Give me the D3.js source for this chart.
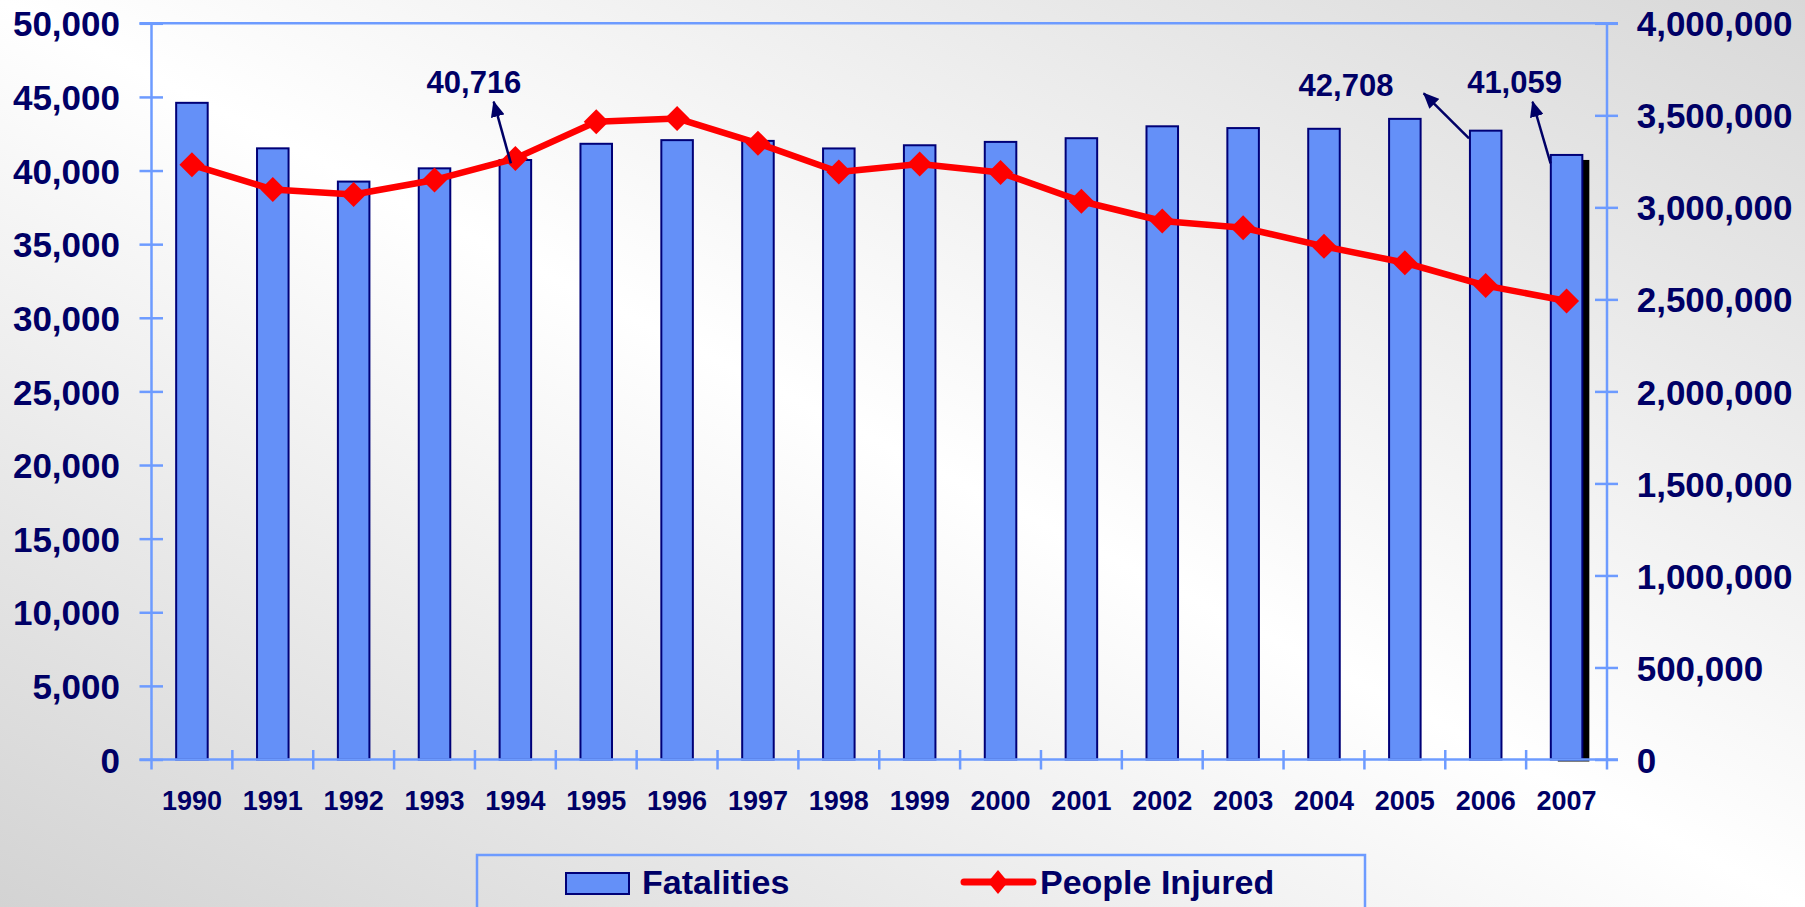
<!DOCTYPE html>
<html>
<head>
<meta charset="utf-8">
<script src="https://cdn.jsdelivr.net/npm/d3@7"></script>
<style>
  html, body { margin: 0; padding: 0; overflow: hidden; }
  svg { display: block; }
  text { font-family: "Liberation Sans", Arial, sans-serif; font-weight: bold; fill: #000066; }
</style>
</head>
<body>
<svg id="chart" width="1805" height="907"></svg>
<script>
// ---------- data ----------
const years = ["1990","1991","1992","1993","1994","1995","1996","1997","1998","1999",
               "2000","2001","2002","2003","2004","2005","2006","2007"];
const fatalities = [44599, 41508, 39250, 40150, 40716, 41817, 42065, 42013, 41501, 41717,
                    41945, 42196, 43005, 42884, 42836, 43510, 42708, 41059];
const injured = [3231000, 3097000, 3070000, 3149000, 3266000, 3465000, 3483000, 3348000, 3192000, 3236000,
                 3189000, 3033000, 2926000, 2889000, 2788000, 2699000, 2575000, 2491000];
const leftTicks = [0, 5000, 10000, 15000, 20000, 25000, 30000, 35000, 40000, 45000, 50000];
const rightTicks = [0, 500000, 1000000, 1500000, 2000000, 2500000, 3000000, 3500000, 4000000];
const seriesNames = ["Fatalities", "People Injured"];
const annotatedYears = ["1994", "2006", "2007"];

// ---------- layout / style ----------
const W = 1805, H = 907;
const L = 151.5, R = 1607, T = 23.3, B = 759.5;
const axisColor = "#6d9bff";
const barFill = "#6490f8";
const barStroke = "#000077";
const navy = "#000066";

const svg = d3.select("#chart");
const defs = svg.append("defs");

const grad = defs.append("linearGradient").attr("id", "bg")
  .attr("x1", 0).attr("y1", 1).attr("x2", 1).attr("y2", 0);
grad.append("stop").attr("offset", 0).attr("stop-color", "#d3d3d3");
grad.append("stop").attr("offset", 0.5).attr("stop-color", "#ffffff");
grad.append("stop").attr("offset", 1).attr("stop-color", "#d8d8d8");

defs.append("marker").attr("id", "arrow")
  .attr("viewBox", "0 0 16 14").attr("refX", 15).attr("refY", 7)
  .attr("markerUnits", "userSpaceOnUse")
  .attr("markerWidth", 16).attr("markerHeight", 14)
  .attr("orient", "auto")
  .append("path").attr("d", "M0,0 L16,7 L0,14 Z").attr("fill", navy);

svg.append("rect").attr("width", W).attr("height", H).attr("fill", "url(#bg)");

// ---------- scales ----------
const x = d3.scaleBand().domain(years).range([L, R]).padding(0);
const yL = d3.scaleLinear().domain([0, 50000]).range([B, T]);
const yR = d3.scaleLinear().domain([0, 4000000]).range([B, T]);
const barW = x.bandwidth() * 0.39;
const cx = d => x(d) + x.bandwidth() / 2;

// ---------- axes ----------
const fmt = d3.format(",");

// left axis
const gL = svg.append("g").attr("transform", `translate(${L},0)`)
  .call(d3.axisLeft(yL).tickValues(leftTicks).tickFormat(fmt).tickSize(12).tickPadding(19.5));
gL.select(".domain").remove();
gL.selectAll(".tick line").attr("x1", 11.5).attr("stroke", axisColor).attr("stroke-width", 2.5);
gL.selectAll(".tick text").style("font-size", "35px").attr("fill", navy).attr("dy", "0.36em");

// right axis
const gR = svg.append("g").attr("transform", `translate(${R},0)`)
  .call(d3.axisRight(yR).tickValues(rightTicks).tickFormat(fmt).tickSize(11).tickPadding(18.7));
gR.select(".domain").remove();
gR.selectAll(".tick line").attr("x1", -12).attr("stroke", axisColor).attr("stroke-width", 2.5);
gR.selectAll(".tick text").style("font-size", "35px").attr("fill", navy).attr("dy", "0.36em");

// bottom axis (labels)
const gB = svg.append("g").attr("transform", `translate(0,${B})`)
  .call(d3.axisBottom(x).tickSize(0).tickPadding(31.3));
gB.select(".domain").remove();
gB.selectAll(".tick text").style("font-size", "27px").attr("fill", navy);

// axis lines
svg.append("line").attr("x1", L).attr("x2", L).attr("y1", T).attr("y2", B + 10)
  .attr("stroke", axisColor).attr("stroke-width", 2.5);
svg.append("line").attr("x1", R).attr("x2", R).attr("y1", T).attr("y2", B + 10)
  .attr("stroke", axisColor).attr("stroke-width", 2.5);
svg.append("line").attr("x1", L - 12).attr("x2", R + 11).attr("y1", T).attr("y2", T)
  .attr("stroke", axisColor).attr("stroke-width", 2.5);

// category boundary ticks
svg.append("g").selectAll("line").data(years.slice(1)).join("line")
  .attr("x1", d => x(d)).attr("x2", d => x(d))
  .attr("y1", B - 9.5).attr("y2", B + 10)
  .attr("stroke", axisColor).attr("stroke-width", 2.5);

// ---------- bars ----------
const barsData = years.map((y, i) => ({ year: y, v: fatalities[i], last: i === years.length - 1 }));

// shadow for the last bar
svg.append("g").selectAll("rect").data(barsData.filter(d => d.last)).join("rect")
  .attr("x", d => cx(d.year) - barW / 2 + 7)
  .attr("y", d => yL(d.v) + 5)
  .attr("width", barW)
  .attr("height", d => B - yL(d.v) - 3)
  .attr("fill", "#000");

svg.append("g").selectAll("rect").data(barsData).join("rect")
  .attr("x", d => cx(d.year) - barW / 2)
  .attr("y", d => yL(d.v))
  .attr("width", barW)
  .attr("height", d => B - yL(d.v))
  .attr("fill", barFill)
  .attr("stroke", barStroke)
  .attr("stroke-width", 2);

// bottom axis line drawn over bars
svg.append("line").attr("x1", L - 12).attr("x2", R + 11).attr("y1", B).attr("y2", B)
  .attr("stroke", axisColor).attr("stroke-width", 2.5);

// ---------- line ----------
const lineData = years.map((y, i) => ({ year: y, v: injured[i] }));
svg.append("path").datum(lineData)
  .attr("d", d3.line().x(d => cx(d.year)).y(d => yR(d.v)))
  .attr("fill", "none").attr("stroke", "#ff0000").attr("stroke-width", 6.5)
  .attr("stroke-linejoin", "round");

const diamond = "M0,-12.5 L12.5,0 L0,12.5 L-12.5,0 Z";
svg.append("g").selectAll("path").data(lineData).join("path")
  .attr("transform", d => `translate(${cx(d.year)},${yR(d.v)})`)
  .attr("d", diamond).attr("fill", "#ff0000");

// ---------- annotations ----------
// offsets relative to bar centre / bar top (styling only)
const annoStyle = {
  "1994": { bx: -4.5, by: 3.3, tx: -21.7, ty: -58.3, lx: -41.4, ly: -66.7 },
  "2006": { bx: -16.7, by: 7.6, tx: -62, ty: -37.4, lx: -139.7, ly: -34.5 },
  "2007": { bx: -16, by: 8.4, tx: -34, ty: -53.2, lx: -52, ly: -61.6 }
};
const annoData = annotatedYears.map(y => ({ year: y, v: fatalities[years.indexOf(y)] }));
const ga = svg.append("g");
ga.selectAll("line").data(annoData).join("line")
  .attr("x1", d => cx(d.year) + annoStyle[d.year].bx)
  .attr("y1", d => yL(d.v) + annoStyle[d.year].by)
  .attr("x2", d => cx(d.year) + annoStyle[d.year].tx)
  .attr("y2", d => yL(d.v) + annoStyle[d.year].ty)
  .attr("stroke", navy).attr("stroke-width", 2.5)
  .attr("marker-end", "url(#arrow)");
ga.selectAll("text").data(annoData).join("text")
  .attr("x", d => cx(d.year) + annoStyle[d.year].lx)
  .attr("y", d => yL(d.v) + annoStyle[d.year].ly)
  .attr("text-anchor", "middle")
  .style("font-size", "31px")
  .text(d => fmt(d.v));

// ---------- legend ----------
const lg = svg.append("g");
lg.append("rect").attr("x", 477).attr("y", 855).attr("width", 888).attr("height", 80)
  .attr("fill", "none").attr("stroke", axisColor).attr("stroke-width", 2.5);
lg.append("rect").attr("x", 566).attr("y", 873).attr("width", 63).attr("height", 21)
  .attr("fill", barFill).attr("stroke", barStroke).attr("stroke-width", 2);
lg.append("text").attr("x", 642).attr("y", 894).style("font-size", "34px").text(seriesNames[0]);
lg.append("line").attr("x1", 964).attr("x2", 1033).attr("y1", 882).attr("y2", 882)
  .attr("stroke", "#ff0000").attr("stroke-width", 7).attr("stroke-linecap", "round");
lg.append("path").attr("transform", "translate(998,882)").attr("d", "M0,-12 L10,0 L0,12 L-10,0 Z")
  .attr("fill", "#ff0000");
lg.append("text").attr("x", 1040).attr("y", 894).style("font-size", "34px").text(seriesNames[1]);
</script>
</body>
</html>
